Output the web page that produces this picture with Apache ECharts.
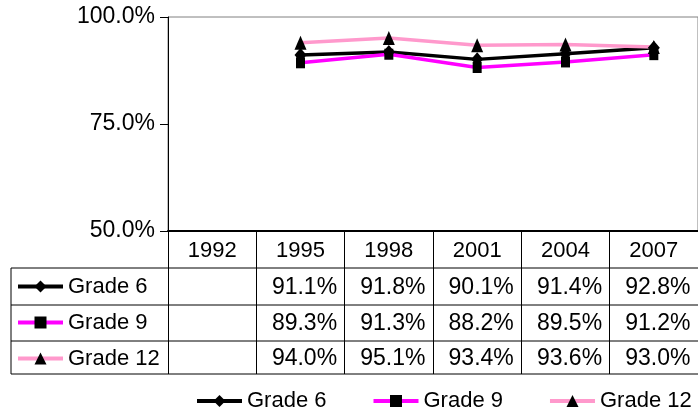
<!DOCTYPE html>
<html>
<head>
<meta charset="utf-8">
<script src="https://cdn.jsdelivr.net/npm/echarts@6/dist/echarts.min.js"></script>
<style>
  html, body { margin: 0; padding: 0; background: #fff; }
  #chart { width: 698px; height: 416px; }
</style>
</head>
<body>
<div id="chart"></div>
<script>
// categories and values (percent)
const years = ['1992', '1995', '1998', '2001', '2004', '2007']
const grade6 = [null, 91.1, 91.8, 90.1, 91.4, 92.8]
const grade9 = [null, 89.3, 91.3, 88.2, 89.5, 91.2]
const grade12 = [null, 94.0, 95.1, 93.4, 93.6, 93.0]
const seriesNames = ['Grade 6', 'Grade 9', 'Grade 12']

const FONT = 'Liberation Sans, Arial, sans-serif'
const FS = 22

// layout of the plot and the data table
const plotLeft = 168
const plotTop = 17
const plotH = 214
const plotW = 534
const tableLeft = 11
const tableRight = plotLeft + plotW
const rowLines = [268, 305, 341, 374]

const pct = (v) => (v == null ? '' : v.toFixed(1) + '%')

// one hidden axis per table row, labels = row values
const rowAxis = (row, margin) => ({
  type: 'category',
  gridIndex: 0,
  position: 'bottom',
  data: years,
  axisLine: { show: false },
  axisTick: { show: false },
  axisLabel: {
    interval: 0,
    margin: margin,
    color: '#000',
    fontFamily: FONT,
    fontSize: 23,
    lineHeight: 22,
    padding: [0, 0, 0, 8],
    formatter: (v, i) => pct(row[i])
  }
})

const tableLines = rowLines.map(y => ({
  type: 'line',
  shape: { x1: tableLeft, y1: y, x2: tableRight, y2: y },
  style: { stroke: '#000', lineWidth: 1 }
}))
tableLines.push({
  type: 'line',
  shape: { x1: tableLeft, y1: rowLines[0], x2: tableLeft, y2: rowLines[rowLines.length - 1] },
  style: { stroke: '#000', lineWidth: 1 }
})

const legendBase = {
  data: seriesNames,
  selectedMode: false,
  padding: 0,
  itemWidth: 45,
  itemHeight: 15,
  lineStyle: { width: 4 },
  textStyle: { color: '#000', fontFamily: FONT, fontSize: FS, lineHeight: 22 }
}

const chart = echarts.init(document.getElementById('chart'))
chart.setOption({
  animation: false,
  backgroundColor: '#fff',
  grid: {
    left: plotLeft, top: plotTop, width: plotW, height: plotH,
    show: true, borderColor: '#808080', borderWidth: 1
  },
  legend: [
    { ...legendBase, orient: 'vertical', left: 16, top: 275.5, itemGap: 14 },
    { ...legendBase, orient: 'horizontal', left: 195, top: 390, itemGap: 45 }
  ],
  xAxis: [
    {
      type: 'category',
      data: years,
      boundaryGap: true,
      axisLine: { lineStyle: { color: '#000', width: 2 } },
      axisTick: { show: true, interval: 0, length: 143, lineStyle: { color: '#000', width: 1 } },
      axisLabel: { interval: 0, margin: 9, color: '#000', fontFamily: FONT, fontSize: FS, lineHeight: 22 },
      splitLine: { show: false }
    },
    rowAxis(grade6, 45.5),
    rowAxis(grade9, 81.5),
    rowAxis(grade12, 116.5)
  ],
  yAxis: {
    type: 'value',
    min: 50,
    max: 100,
    interval: 25,
    axisLine: { show: true, lineStyle: { color: '#000', width: 1 } },
    axisTick: { show: true, length: 8, lineStyle: { color: '#000' } },
    axisLabel: { margin: 13, color: '#000', fontFamily: FONT, fontSize: 23, formatter: (v) => v.toFixed(1) + '%' },
    splitLine: { show: false }
  },
  series: [
    {
      name: 'Grade 6', type: 'line', data: grade6,
      symbol: 'diamond', symbolSize: [12, 14],
      itemStyle: { color: '#000' },
      lineStyle: { color: '#000', width: 3.5 }
    },
    {
      name: 'Grade 9', type: 'line', data: grade9,
      symbol: 'rect', symbolSize: [9, 11],
      itemStyle: { color: '#000' },
      lineStyle: { color: '#FF00FF', width: 3.5 }
    },
    {
      name: 'Grade 12', type: 'line', data: grade12,
      symbol: 'triangle', symbolSize: [12, 14],
      itemStyle: { color: '#000' },
      lineStyle: { color: '#FF99CC', width: 3.5 }
    }
  ],
  graphic: tableLines
})
</script>
</body>
</html>
